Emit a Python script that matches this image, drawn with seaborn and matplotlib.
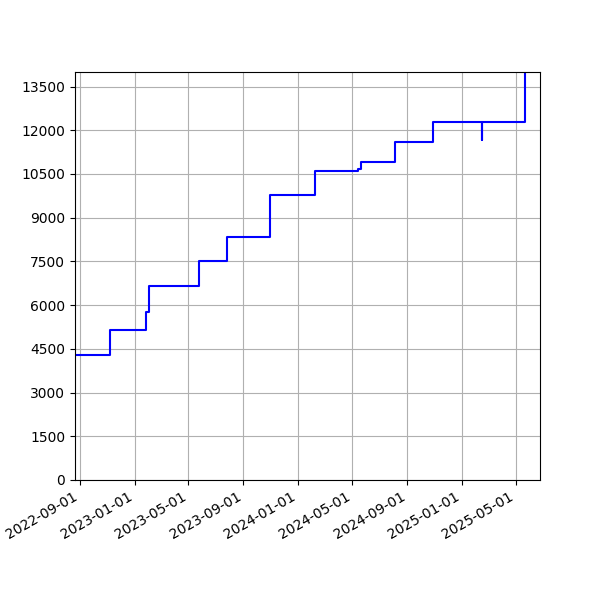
import matplotlib
matplotlib.use("Agg")
import matplotlib.pyplot as plt
import matplotlib.dates as mdates
import matplotlib.ticker as mticker
import seaborn as sns
import pandas as pd

dates = ["2022-08-21", "2022-11-08", "2023-01-26", "2023-02-02", "2023-05-25",
         "2023-07-26", "2023-10-31", "2024-02-08", "2024-05-13", "2024-05-20",
         "2024-08-04", "2024-10-29", "2025-02-14", "2025-02-15", "2025-05-21",
         "2025-06-24"]
values = [4300, 5150, 5780, 6640, 7500,
          8350, 9790, 10620, 10660, 10920,
          11600, 12300, 11680, 12300, 15000,
          15000]

df = pd.DataFrame({"date": pd.to_datetime(dates), "value": values})

plt.rcParams['font.family'] = ['DejaVu Sans']
fig, ax = plt.subplots(figsize=(6, 6), dpi=100)
sns.lineplot(data=df, x="date", y="value", ax=ax, color="blue",
             drawstyle="steps-post", linewidth=1.5)
ax.set_xlim(pd.Timestamp("2022-08-21"), pd.Timestamp("2025-06-24"))
ax.set_ylim(0, 14000)
ax.yaxis.set_major_locator(mticker.MultipleLocator(1500))
ax.xaxis.set_major_locator(mdates.MonthLocator(bymonth=[1, 5, 9]))
ax.xaxis.set_major_formatter(mdates.DateFormatter("%Y-%m-%d"))
ax.set_xlabel("")
ax.set_ylabel("")
ax.grid(True, color="#b0b0b0", linewidth=0.8)
fig.autofmt_xdate()
fig.subplots_adjust(left=0.125, right=0.9, top=0.88, bottom=0.2)
fig.savefig("out.png", dpi=100)
